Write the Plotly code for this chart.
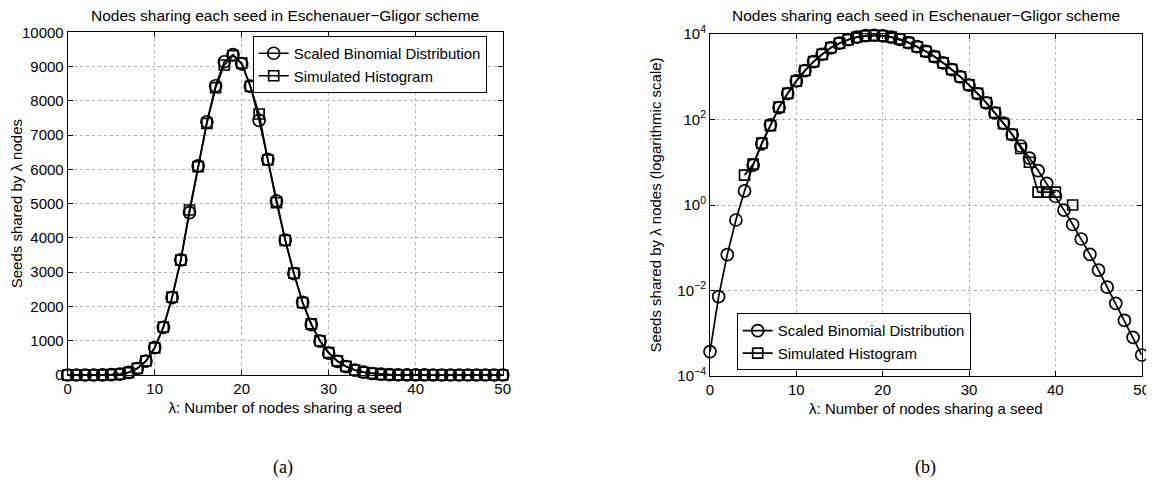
import plotly.graph_objects as go

lam = list(range(51))
binom = [3.7e-4, 7.2e-3, 0.069, 0.446, 2.13, 8.6, 27, 75, 190, 405,
         800, 1390, 2260, 3360, 4740, 6100, 7390, 8440, 9140, 9350,
         9080, 8430, 7430, 6290, 5080, 3940, 2960, 2120, 1470, 990,
         640, 400, 245, 142, 82, 44, 24, 12.5, 6.4, 3.2,
         1.6, 0.76, 0.35, 0.16, 0.07, 0.030, 0.012, 0.0050, 0.0020, 8e-4,
         3.1e-4]
hist = [0, 0, 0, 0, 5, 9, 28, 72, 195, 410,
        790, 1400, 2270, 3350, 4815, 6080, 7345, 8383, 9046, 9320,
        9100, 8420, 7616, 6280, 5028, 3930, 2970, 2110, 1490, 1000,
        650, 410, 250, 145, 80, 45, 21, 10, 2, 2,
        2, 0, 1, 0, 0, 0, 0, 0, 0, 0,
        0]
hist_log = [v if v > 0 else None for v in hist]

title_text = "Nodes sharing each seed in Eschenauer−Gligor scheme"
xlabel = "λ: Number of nodes sharing a seed"
ylabel_a = "Seeds shared by λ nodes"
ylabel_b = "Seeds shared by λ nodes (logarithmic scale)"
name_b = "Scaled Binomial Distribution"
name_h = "Simulated Histogram"
x_ticks = [0, 10, 20, 30, 40, 50]
ya_ticks = [0, 1000, 2000, 3000, 4000, 5000, 6000, 7000, 8000, 9000, 10000]
ya_text = [str(v) for v in ya_ticks]
yb_ticks = [1e-4, 1e-2, 1, 1e2, 1e4]
yb_text = ["10<sup>−4</sup>", "10<sup>−2</sup>", "10<sup>0</sup>", "10<sup>2</sup>", "10<sup>4</sup>"]

# page body has a default 8px margin; the figure is sized to fit the window
OFF = 8
W, H = 1154 - OFF, 485 - OFF
FONT = "Liberation Sans, Arial, sans-serif"
SERIF = "Liberation Serif, Times New Roman, serif"
FS = 15

fig = go.Figure()

def add(x, y, name, sym, xa, ya, legend, size):
    fig.add_trace(go.Scatter(
        x=x, y=y, name=name, mode="lines+markers", xaxis=xa, yaxis=ya,
        legend=legend, cliponaxis=False, connectgaps=False,
        line=dict(color="black", width=1.7),
        marker=dict(symbol=sym, size=size, color="black",
                    line=dict(color="black", width=1.7)),
    ))

add(lam, binom, name_b, "circle-open", "x", "y", "legend", 12)
add(lam, hist, name_h, "square-open", "x", "y", "legend", 10)
add(lam, binom, name_b, "circle-open", "x2", "y2", "legend2", 12)
add(lam, hist_log, name_h, "square-open", "x2", "y2", "legend2", 10)

def px_x(p):
    return (p - OFF) / W

def px_y(p):
    return 1 - (p - OFF) / H

axis_common = dict(
    showline=True, linecolor="black", linewidth=1, mirror="ticks",
    ticks="inside", ticklen=5, tickcolor="black", tickwidth=1,
    showgrid=True, gridcolor="#b4b4b4", griddash="dot", gridwidth=1,
    zeroline=False, automargin=False,
    tickfont=dict(family=FONT, size=FS, color="black"),
)

fig.update_layout(
    width=W, height=H, paper_bgcolor="white", plot_bgcolor="white",
    margin=dict(l=0, r=0, t=0, b=0), showlegend=True,
    font=dict(family=FONT, size=FS, color="black"),
    xaxis=dict(domain=[px_x(67.7), px_x(502.7)], range=[0, 50], tickvals=x_ticks,
               anchor="y", title=dict(text=xlabel, standoff=6, font=dict(size=FS)),
               **axis_common),
    yaxis=dict(domain=[px_y(375), px_y(32.3)], range=[0, 10000], tickvals=ya_ticks,
               ticktext=ya_text, anchor="x",
               title=dict(text=ylabel_a, standoff=8, font=dict(size=FS)),
               **axis_common),
    xaxis2=dict(domain=[px_x(710), px_x(1141.7)], range=[0, 50], tickvals=x_ticks,
                anchor="y2", title=dict(text=xlabel, standoff=6, font=dict(size=FS)),
                **axis_common),
    yaxis2=dict(domain=[px_y(376), px_y(34)], type="log", range=[-4, 4],
                tickvals=yb_ticks, ticktext=yb_text, anchor="x2",
                title=dict(text=ylabel_b, standoff=12, font=dict(size=FS)),
                **axis_common),
    legend=dict(x=px_x(252.7), y=px_y(36), xanchor="left", yanchor="top",
                bgcolor="white", bordercolor="black", borderwidth=1,
                font=dict(family=FONT, size=FS), tracegroupgap=0,
                itemwidth=30),
    legend2=dict(x=px_x(736.7), y=px_y(313.3), xanchor="left", yanchor="top",
                 bgcolor="white", bordercolor="black", borderwidth=1,
                 font=dict(family=FONT, size=FS), tracegroupgap=0,
                 itemwidth=30),
    annotations=[
        dict(text=title_text, x=px_x((67.7 + 502.7) / 2), y=px_y(16), xref="paper", yref="paper",
             showarrow=False, font=dict(family=FONT, size=15.5), xanchor="center", yanchor="middle"),
        dict(text=title_text, x=px_x((710 + 1141.7) / 2), y=px_y(16), xref="paper", yref="paper",
             showarrow=False, font=dict(family=FONT, size=15.5), xanchor="center", yanchor="middle"),
        dict(text="(a)", x=px_x(283), y=px_y(467), xref="paper", yref="paper",
             showarrow=False, font=dict(family=SERIF, size=18),
             xanchor="center", yanchor="middle"),
        dict(text="(b)", x=px_x(925), y=px_y(467), xref="paper", yref="paper",
             showarrow=False, font=dict(family=SERIF, size=18),
             xanchor="center", yanchor="middle"),
    ],
)

fig.write_html("out.html")
